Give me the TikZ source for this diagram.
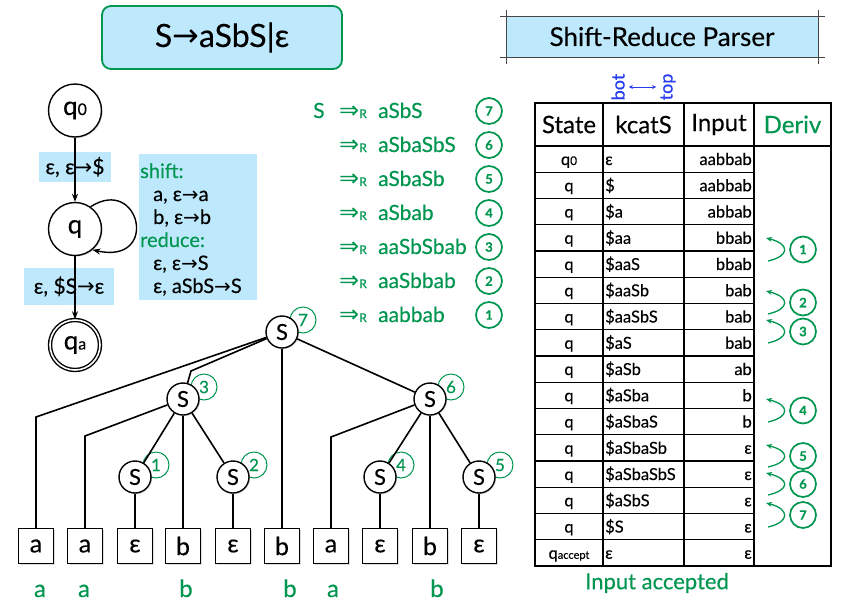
\documentclass[tikz,border=0pt]{standalone}
\usepackage{fontspec}
\setmainfont{Lato}[FakeBold=0.3]
\newfontfamily\djv{DejaVu Sans}
\usetikzlibrary{arrows.meta,shadows}
\definecolor{grn}{RGB}{0,150,80}
\definecolor{lblue}{RGB}{190,233,252}
\definecolor{blu}{RGB}{40,60,240}
\definecolor{frame}{RGB}{70,70,70}
\newcommand{\fsz}[1]{\fontsize{#1}{#1}\selectfont}
\newcommand{\rarr}{{\djv →}}
\pgfdeclarelayer{bg}
\pgfsetlayers{bg,main}
\begin{document}
\begin{tikzpicture}[x=1pt,y=-1pt,
  shad/.style={drop shadow={shadow xshift=1.2pt,shadow yshift=-1.2pt,opacity=0.25}},
  autstate/.style={circle,draw,line width=1.4pt,fill=white,minimum size=53pt,inner sep=0pt,font=\fsz{26},shad},
  snode/.style={circle,draw,line width=1.4pt,fill=white,minimum size=32pt,inner sep=0pt,font=\fsz{22},shad},
  leaf/.style={rectangle,draw,line width=1.4pt,fill=white,minimum size=35pt,inner sep=0pt,font=\fsz{25},shad},
  lbl/.style={fill=lblue,inner sep=0pt,font=\fsz{21}},
  rulet/.style={anchor=base west,inner sep=0pt,font=\fsz{20}},
  gnum/.style={circle,draw=grn,line width=1.7pt,text=grn,minimum size=26pt,inner sep=0pt,font=\fsz{13}\bfseries},
  tnum/.style={circle,draw=grn,line width=1pt,text=grn,minimum size=26pt,inner sep=0pt,font=\fsz{17}},
  tedge/.style={line width=1.6pt},
  arr/.style={line width=1.4pt,-{Stealth[length=8pt,width=6pt]}},
  garr/.style={grn,line width=1.3pt,-{Stealth[length=6pt,width=5pt]}},
  tline/.style={line width=1.3pt},
  cell/.style={inner sep=0pt,font=\fsz{16.5}},
  derivt/.style={anchor=base west,inner sep=0pt,text=grn,font=\fsz{21}}
]
\useasboundingbox (0,0) rectangle (842,603);
\begin{pgfonlayer}{bg}
\fill[white] (0,0) rectangle (842,603);
\end{pgfonlayer}

% title
\node[draw=grn,line width=1.8pt,fill=lblue,rounded corners=9pt,minimum width=240pt,minimum height=63pt,inner sep=0pt,font=\fsz{32}] (title) at (222,37.5) {S\rarr aSbS|ε};

% shift-reduce parser title
\node[fill=lblue,minimum width=312pt,minimum height=41pt,inner sep=0pt,font=\fsz{26}] (srp) at (662,36.5) {Shift-Reduce Parser};
\draw[frame,line width=0.8pt] (500,16) -- (825,16) (500,57) -- (825,57) (506,10) -- (506,64) (818,10) -- (818,64);

% automaton
\node[lbl,minimum width=72pt,minimum height=30pt] (l1) at (75,167) {ε, ε\rarr\$};
\node[lbl,minimum width=90pt,minimum height=37pt] (l2) at (69,286.5) {ε, \$S\rarr ε};
\node[autstate] (q0) at (75,110.5) {q{\fsz{16}0}};
\node[autstate] (q) at (75,229) {q};
\node[autstate,double,double distance=1.6pt,minimum size=50pt] (qa) at (75,345) {q{\fsz{16}a}};
\draw[arr] (q0) -- (q);
\draw[arr] (q) -- (qa);
\draw[arr] (q.55) .. controls (140,175) and (160,265) .. (q.-50);

% shift/reduce rules
\node[fill=lblue,minimum width=118pt,minimum height=146pt,inner sep=0pt] (srbox) at (198,227) {};
\node[rulet,text=grn] (r1) at (140,178) {shift:};
\node[rulet] (r2) at (153,201) {a, ε\rarr a};
\node[rulet] (r3) at (153,224) {b, ε\rarr b};
\node[rulet,text=grn] (r4) at (140,247) {reduce:};
\node[rulet] (r5) at (153,270) {ε, ε\rarr S};
\node[rulet] (r6) at (153,293) {ε, aSbS\rarr S};

% derivation
\node[derivt] (d0) at (313,118) {S};
\foreach \w/\n [count=\i from 0] in {aSbS/7,aSbaSbS/6,aSbaSb/5,aSbab/4,aaSbSbab/3,aaSbbab/2,aabbab/1}{
  \node[derivt] (dr\i) at (339,118+34*\i) {{\djv\fsz{24}⇒}{\fsz{12}R}};
  \node[derivt] (dw\i) at (378,118+34*\i) {\w};
  \node[gnum] (dn\i) at (489,111+34*\i) {\n};
}

% table
\node[text=blu,rotate=90,inner sep=0pt,font=\fsz{18}] (bot) at (618,87) {bot};
\node[text=blu,rotate=90,inner sep=0pt,font=\fsz{18}] (top) at (668,87) {top};
\draw[blu,line width=0.7pt,{Stealth[length=4pt,width=4pt]}-{Stealth[length=4pt,width=4pt]},shorten <=4pt,shorten >=4pt] (bot) -- (top);

\draw[tline] (535,103) rectangle (831,566);
\draw[tline] (535,146) -- (831,146);
\foreach \x in {603,684,754} \draw[tline] (\x,103) -- (\x,566);
\foreach \i in {1,...,15} \draw[tline] (535,146+26.25*\i) -- (754,146+26.25*\i);

\node[cell,font=\fsz{24}] (hs) at (569,124.5) {State};
\node[cell,font=\fsz{24}] (hk) at (643.5,124.5) {kcatS};
\node[cell,font=\fsz{24}] (hi) at (719,124.5) {Input};
\node[cell,font=\fsz{24},text=grn] (hd) at (792.5,124.5) {Deriv};

\foreach \s/\k/\n [count=\i from 0] in {q{\fsz{12}0}/ε/aabbab, q/\$/aabbab, q/\$a/abbab, q/\$aa/bbab, q/\$aaS/bbab, q/\$aaSb/bab, q/\$aaSbS/bab, q/\$aS/bab, q/\$aSb/ab, q/\$aSba/b, q/\$aSbaS/b, q/\$aSbaSb/ε, q/\$aSbaSbS/ε, q/\$aSbS/ε, q/\$S/ε, q{\fsz{11}accept}/ε/ε}{
  \node[cell,anchor=base] (ts\i) at (569,165+26.25*\i) {\s};
  \node[cell,anchor=base west] (tk\i) at (605,165+26.25*\i) {\k};
  \node[cell,anchor=base east] (tn\i) at (752,165+26.25*\i) {\n};
}

\foreach \k/\a/\b in {1/238/261, 2/291/314, 3/320/343, 4/399/422, 5/445/467, 6/473/495, 7/503/527}{
  \coordinate (dt\k) at (766,\a);
  \coordinate (ds\k) at (768,\b);
  \draw[garr] (ds\k) .. controls +(22,-5) and +(24,6) .. (dt\k);
  \node[gnum] (dc\k) at (803,{(\a+\b)/2}) {\k};
}

\node[text=grn,font=\fsz{22}] (acc) at (657,583) {Input accepted};

% parse tree
\node[snode] (S7) at (282,332) {S};
\node[snode] (S3) at (183,399) {S};
\node[snode] (S6) at (430,399) {S};
\node[snode] (S1) at (135,477) {S};
\node[snode] (S2) at (233,477) {S};
\node[snode] (S4) at (380,477) {S};
\node[snode] (S5) at (479,477) {S};

\begin{pgfonlayer}{bg}
\foreach \n in {7,3,6,1,2,4,5}{
  \node[tnum] (t\n) at ([shift={(21,-12)}]S\n) {\n};
}
\end{pgfonlayer}

\foreach \x/\t [count=\i from 0] in {36/a,85/a,135/ε,183/b,233/ε,282/b,331/a,380/ε,430/b,479/ε}{
  \node[leaf] (L\i) at (\x,546) {\t};
}

\coordinate (b0) at (36,417);
\coordinate (b3) at (191,371);
\coordinate (b1) at (85,436);
\coordinate (b6) at (331,437);

\draw[tedge] (S7) -- (b0) -- (L0.north);
\draw[tedge] (S7) -- (b3) -- (S3);
\draw[tedge] (S7) -- (L5);
\draw[tedge] (S7) -- (S6);
\draw[tedge] (S3) -- (b1) -- (L1.north);
\draw[tedge] (S3) -- (S1);
\draw[tedge] (S3) -- (L3);
\draw[tedge] (S3) -- (S2);
\draw[tedge] (S6) -- (b6) -- (L6.north);
\draw[tedge] (S6) -- (S4);
\draw[tedge] (S6) -- (L8);
\draw[tedge] (S6) -- (S5);
\draw[tedge] (S1) -- (L2);
\draw[tedge] (S2) -- (L4);
\draw[tedge] (S4) -- (L7);
\draw[tedge] (S5) -- (L9);

\foreach \x/\t [count=\i from 0] in {40/a,84/a,186/b,290/b,333/a,437/b}{
  \node[text=grn,anchor=base,inner sep=0pt,font=\fsz{24}] (g\i) at (\x,597) {\t};
}
\end{tikzpicture}
\end{document}
